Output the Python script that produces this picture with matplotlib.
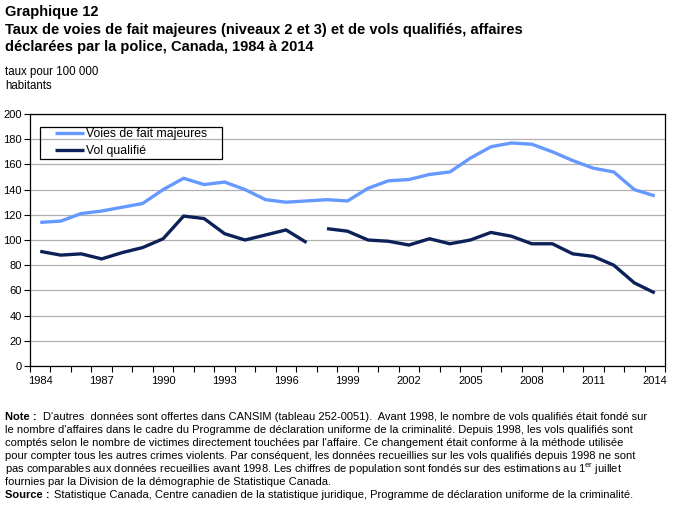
import numpy as np
import matplotlib.pyplot as plt
from matplotlib.patches import Rectangle

plt.rcParams['font.family'] = ['Liberation Sans', 'DejaVu Sans']
plt.rcParams['mathtext.fontset'] = 'custom'
plt.rcParams['mathtext.rm'] = 'Liberation Sans'

years = list(range(1984, 2015))
voies_de_fait = [114, 115, 121, 123, 126, 129, 140, 149, 144, 146, 140, 132, 130, 131, 132,
                 131, 141, 147, 148, 152, 154, 165, 174, 177, 176, 170, 163, 157, 154, 140, 135]
vol_qualifie = [91, 88, 89, 85, 90, 94, 101, 119, 117, 105, 100, 104, 108, 98, 109,
                107, 100, 99, 96, 101, 97, 100, 106, 103, 97, 97, 89, 87, 80, 66, 58]
break_year = 1998  # changement de méthode : la série est interrompue
tick_labels = [str(y) for y in range(1984, 2015, 3)]

W, H = 675, 507
fig = plt.figure(figsize=(W / 100, H / 100), dpi=100)
ax = fig.add_axes([30 / W, 1 - 366 / H, 635 / W, 252 / H])

x = np.arange(len(years))
light = '#6699FF'
dark = '#0B2157'
ax.plot(x, voies_de_fait, color=light, lw=2.4, label='Voies de fait majeures', solid_capstyle='butt')
b = years.index(break_year)
ax.plot(x[:b], vol_qualifie[:b], color=dark, lw=2.4, label='Vol qualifié', solid_capstyle='butt')
ax.plot(x[b:], vol_qualifie[b:], color=dark, lw=2.4, solid_capstyle='butt')

ax.set_xlim(-0.5, len(years) - 0.5)
ax.set_ylim(0, 200)
ax.set_yticks(range(0, 201, 20))
ax.yaxis.grid(True, color='#B0B0B0', lw=0.9)
ax.set_axisbelow(True)

major = [years.index(int(t)) for t in tick_labels]
ax.set_xticks(major)
ax.set_xticklabels(tick_labels)
ax.set_xticks(np.arange(-0.5, len(years)), minor=True)
ax.tick_params(axis='x', which='major', length=0, pad=7, labelsize=8)
ax.tick_params(axis='x', which='minor', length=4, width=0.8, direction='out')
ax.tick_params(axis='y', length=4, width=0.8, labelsize=8, pad=2)
for s in ax.spines.values():
    s.set_linewidth(0.9)
    s.set_color('black')

# légende : cadre dessiné à part pour reproduire les marges
leg = ax.legend(loc='upper left', bbox_to_anchor=(55 / W, 1 - 128 / H),
                bbox_transform=fig.transFigure, fontsize=8.8, frameon=False,
                handlelength=2.4, handletextpad=0.15, borderpad=0.0,
                labelspacing=0.4, borderaxespad=0)
fig.patches.append(Rectangle((40 / W, 1 - 159 / H), 182 / W, 32 / H,
                             transform=fig.transFigure, fill=False,
                             edgecolor='black', lw=0.9, zorder=5))

# Titres
fig.text(5 / W, 1 - 12 / H, 'Graphique 12', fontsize=10.5, fontweight='bold', va='center')
fig.text(5 / W, 1 - 30 / H,
         'Taux de voies de fait majeures (niveaux 2 et 3) et de vols qualifiés, affaires',
         fontsize=10.5, fontweight='bold', va='center')
fig.text(5 / W, 1 - 47 / H, 'déclarées par la police, Canada, 1984 à 2014',
         fontsize=10.5, fontweight='bold', va='center')
fig.text(5 / W, 1 - 72 / H, 'taux pour 100 000', fontsize=8.3, va='center')
fig.text(5 / W, 1 - 86 / H, 'habitants', fontsize=8.3, va='center')

# Note et source
note = [
    "D'autres  données sont offertes dans CANSIM (tableau 252-0051).  Avant 1998, le nombre de vols qualifiés était fondé sur",
    "le nombre d'affaires dans le cadre du Programme de déclaration uniforme de la criminalité. Depuis 1998, les vols qualifiés sont",
    "comptés selon le nombre de victimes directement touchées par l'affaire. Ce changement était conforme à la méthode utilisée",
    "pour compter tous les autres crimes violents. Par conséquent, les données recueillies sur les vols qualifiés depuis 1998 ne sont",
    "pas comparables aux données recueillies avant 1998. Les chiffres de population sont fondés sur des estimations au 1$^{\\mathrm{er}}$ juillet",
    "fournies par la Division de la démographie de Statistique Canada.",
]
y0 = 417
fig.text(5 / W, 1 - y0 / H, 'Note :', fontsize=8, fontweight='bold', va='center')
for i, line in enumerate(note):
    xs = 43 if i == 0 else 5
    fig.text(xs / W, 1 - (y0 + 13 * i) / H, line, fontsize=8, va='center')
ys = y0 + 13 * len(note)
fig.text(5 / W, 1 - ys / H, 'Source :', fontsize=8, fontweight='bold', va='center')
fig.text(54 / W, 1 - ys / H,
         'Statistique Canada, Centre canadien de la statistique juridique, Programme de déclaration uniforme de la criminalité.',
         fontsize=8, va='center')

fig.savefig('out.png', dpi=100)
